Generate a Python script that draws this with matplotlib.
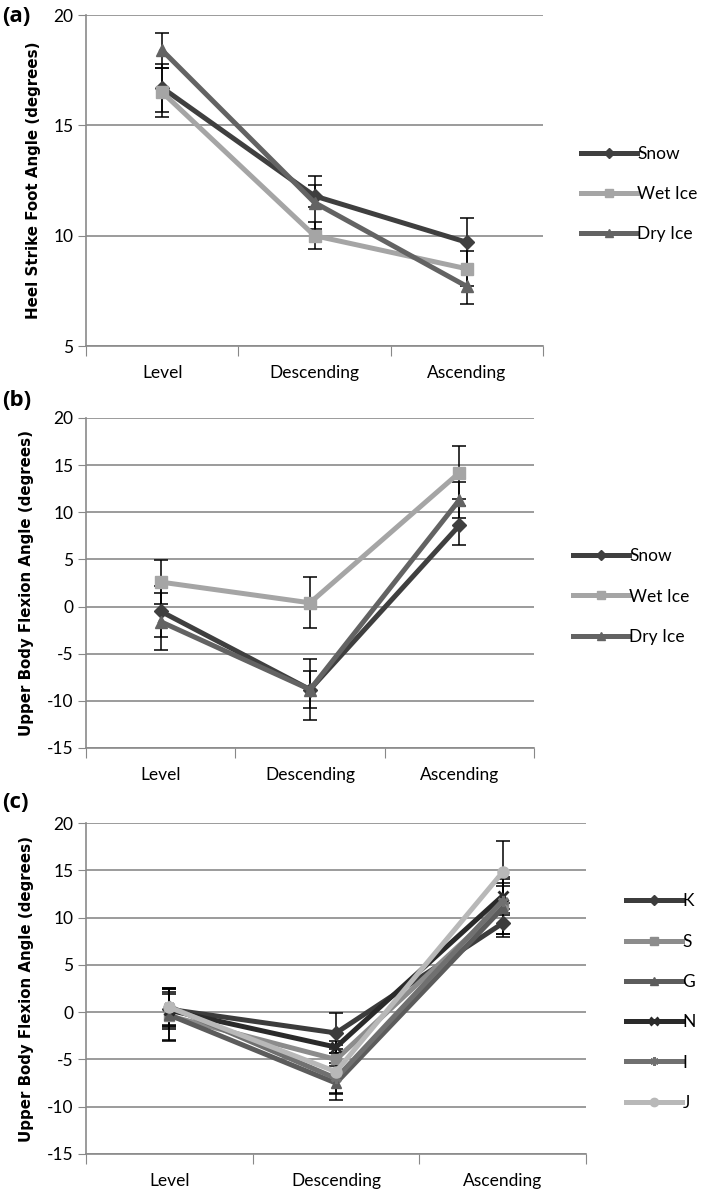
import matplotlib
matplotlib.use("Agg")
import matplotlib.pyplot as plt

conditions = ["Level", "Descending", "Ascending"]

# (a) heel strike foot angle
surfaces = ["Snow", "Wet Ice", "Dry Ice"]
heel_mean = {"Snow": [16.7, 11.8, 9.7], "Wet Ice": [16.5, 10.0, 8.5], "Dry Ice": [18.4, 11.5, 7.7]}
heel_err = {"Snow": [1.1, 0.5, 1.1], "Wet Ice": [1.1, 0.6, 0.8], "Dry Ice": [0.8, 1.2, 0.8]}

# (b) upper body flexion by surface
flex_mean = {"Snow": [-0.5, -8.8, 8.6], "Wet Ice": [2.6, 0.4, 14.2], "Dry Ice": [-1.6, -8.8, 11.3]}
flex_err = {"Snow": [2.7, 2.0, 2.1], "Wet Ice": [2.3, 2.7, 2.8], "Dry Ice": [3.0, 3.2, 1.9]}

# (c) upper body flexion by participant
people = ["K", "S", "G", "N", "I", "J"]
pers_mean = {"K": [0.3, -2.2, 9.4], "S": [-0.4, -5.0, 11.3], "G": [-0.3, -7.5, 11.0],
             "N": [0.2, -3.7, 12.3], "I": [0.6, -7.0, 11.8], "J": [0.5, -6.3, 14.8]}
pers_err = {"K": [2.1, 2.1, 1.1], "S": [2.5, 1.5, 3.0], "G": [2.7, 1.8, 3.1],
            "N": [1.7, 0.6, 1.4], "I": [2.0, 1.6, 1.5], "J": [2.1, 2.4, 3.3]}

surf_style = {"Snow": ("#3f3f3f", "D", 7), "Wet Ice": ("#a5a5a5", "s", 8), "Dry Ice": ("#636363", "^", 8)}
pers_style = {"K": ("#3c3c3c", "D", 7), "S": ("#8c8c8c", "s", 7), "G": ("#5c5c5c", "^", 7),
              "N": ("#2a2a2a", "x", 7), "I": ("#707070", (6, 2, 0), 8), "J": ("#b8b8b8", "o", 8)}

tick_font = "Lato"
xpos = [0.5, 1.5, 2.5]
H = 1193.0
W = 706.0

fig = plt.figure(figsize=(7.06, 11.93), dpi=100)


def panel(left, right, top, bottom, names, mean, err, style, ylim, yticks, ylabel,
          letter, letter_y, leg_x):
    ax = fig.add_axes([left / W, 1 - bottom / H, (right - left) / W, (bottom - top) / H])
    for n in names:
        ax.errorbar(xpos, mean[n], yerr=err[n], fmt="none", ecolor="black",
                    elinewidth=1.1, capsize=5, capthick=1.1, zorder=2)
    for n in names:
        c, m, ms = style[n]
        mew = 2 if m == "x" or isinstance(m, tuple) else 1
        ax.plot(xpos, mean[n], color=c, lw=3.6, marker=m, ms=ms, mfc=c, mec=c,
                mew=mew, label=n, zorder=3)
    ax.set_xlim(0, 3)
    ax.set_ylim(*ylim)
    ax.set_yticks(yticks)
    ax.set_yticklabels([str(t) for t in yticks], fontfamily=tick_font, fontsize=12.5)
    ax.set_xticks([0, 1, 2, 3])
    ax.set_xticklabels([])
    ax.set_xticks(xpos, minor=True)
    ax.set_xticklabels(conditions, minor=True, fontfamily=tick_font, fontsize=12.5)
    ax.tick_params(axis="x", which="major", length=7, direction="out", color="#888888")
    ax.tick_params(axis="x", which="minor", length=0, pad=14)
    ax.tick_params(axis="y", length=6, direction="out", color="#888888", pad=3)
    ax.grid(axis="y", color="#8a8a8a", lw=1.2)
    ax.set_axisbelow(True)
    for s in ["top", "right"]:
        ax.spines[s].set_visible(False)
    for s in ["left", "bottom"]:
        ax.spines[s].set_color("#8a8a8a")
        ax.spines[s].set_linewidth(1.2)
    ax.set_ylabel(ylabel, fontsize=10.8, fontweight="bold", labelpad=9)
    fig.text(2 / W, 1 - letter_y / H, letter, fontsize=16, fontweight="bold",
             fontfamily="Open Sans", va="center", ha="left")
    ax.legend(loc="center left", bbox_to_anchor=((leg_x - left) / (right - left), 0.459),
              frameon=False, prop={"family": tick_font, "size": 12.5}, handlelength=3.2,
              handletextpad=0.05, labelspacing=1.4, borderaxespad=0, borderpad=0,
              markerscale=0.75)
    return ax


panel(86, 543, 15, 346, surfaces, heel_mean, heel_err, surf_style,
      (5, 20), [5, 10, 15, 20], "Heel Strike Foot Angle (degrees)", "(a)", 16, 581)
panel(86, 534, 418, 748, surfaces, flex_mean, flex_err, surf_style,
      (-15, 20), [-15, -10, -5, 0, 5, 10, 15, 20], "Upper Body Flexion Angle (degrees)",
      "(b)", 400, 573)
panel(86, 586, 823, 1154, people, pers_mean, pers_err, pers_style,
      (-15, 20), [-15, -10, -5, 0, 5, 10, 15, 20], "Upper Body Flexion Angle (degrees)",
      "(c)", 803, 626)

fig.savefig("out.png", dpi=100)
